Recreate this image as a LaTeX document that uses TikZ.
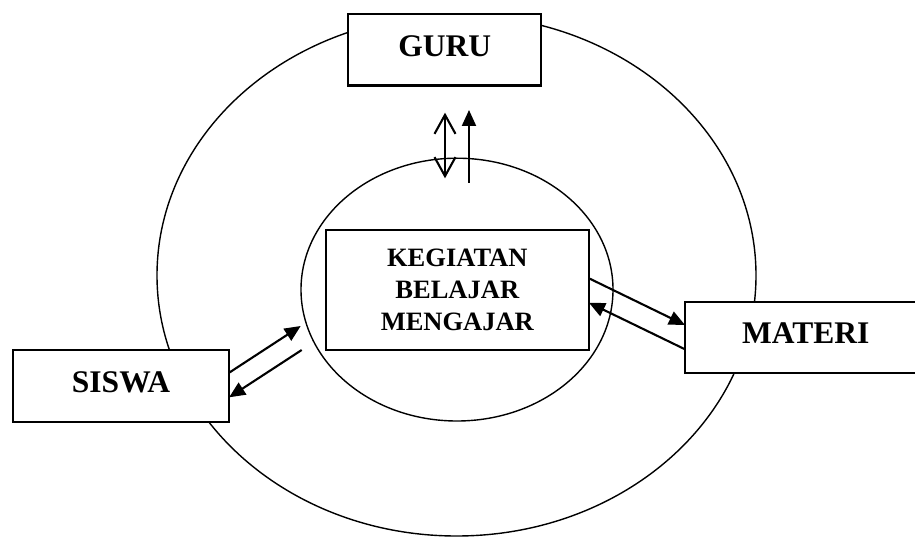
\documentclass[tikz,border=0pt]{standalone}
\usepackage{fontspec}
\setmainfont{Liberation Serif}
\usetikzlibrary{arrows.meta}

\begin{document}
\begin{tikzpicture}[x=1pt,y=-1pt,
  ring/.style={black,line width=1.4pt},
  part/.style={draw,fill=white,line width=2.2pt,inner sep=0pt,outer sep=0pt,
    font=\fontsize{31.5}{36}\selectfont\bfseries,text height=20.9pt,text depth=7.6pt},
  core/.style={draw,fill=white,line width=2.2pt,inner sep=0pt,outer sep=0pt,
    align=center,font=\fontsize{26.5}{32.2}\selectfont\bfseries},
  flow/.style={line width=2.1pt,-{Triangle[length=16pt,width=14pt]}},
  swap/.style={line width=2.1pt,
    {Straight Barb[length=19pt,width=21pt]}-{Straight Barb[length=19pt,width=21pt]}}
]
\useasboundingbox (0,0) rectangle (915,537);
\clip (0,0) rectangle (915,537);

\draw[ring] (456.5,275.4) ellipse [x radius=299.5,y radius=260.6];
\draw[ring] (457,289.6) ellipse [x radius=156,y radius=131.4];

\node[part,minimum width=192.7pt,minimum height=71.6pt] (guru) at (444.7,49.8) {GURU};
\node[part,minimum width=216.3pt,minimum height=71.7pt] (siswa) at (121,385.9) {SISWA};
\node[part,minimum width=241.6pt,minimum height=71pt] (materi) at (805.8,337.2) {MATERI};
\node[core,minimum width=263.3pt,minimum height=120pt] (kbm) at (457.3,290)
  {KEGIATAN\\BELAJAR\\MENGAJAR};

\coordinate (g1) at (445,112.7);
\coordinate (g2) at (445,178.3);
\coordinate (g3) at (469,182.7);
\coordinate (g4) at (469,110);
\coordinate (s1) at (300.7,326);
\coordinate (s2) at (301.7,350);

\draw[swap] (g1) -- (g2);
\draw[flow] (g3) -- (g4);
\draw[flow] ([yshift=13.2pt]siswa.east) -- (s1);
\draw[flow] (s2) -- ([yshift=-11.4pt]siswa.east);
\draw[flow] ([yshift=11.7pt]kbm.east) -- ([yshift=12.2pt]materi.west);
\draw[flow] ([yshift=-12.1pt]materi.west) -- ([yshift=-12.7pt]kbm.east);
\end{tikzpicture}
\end{document}
